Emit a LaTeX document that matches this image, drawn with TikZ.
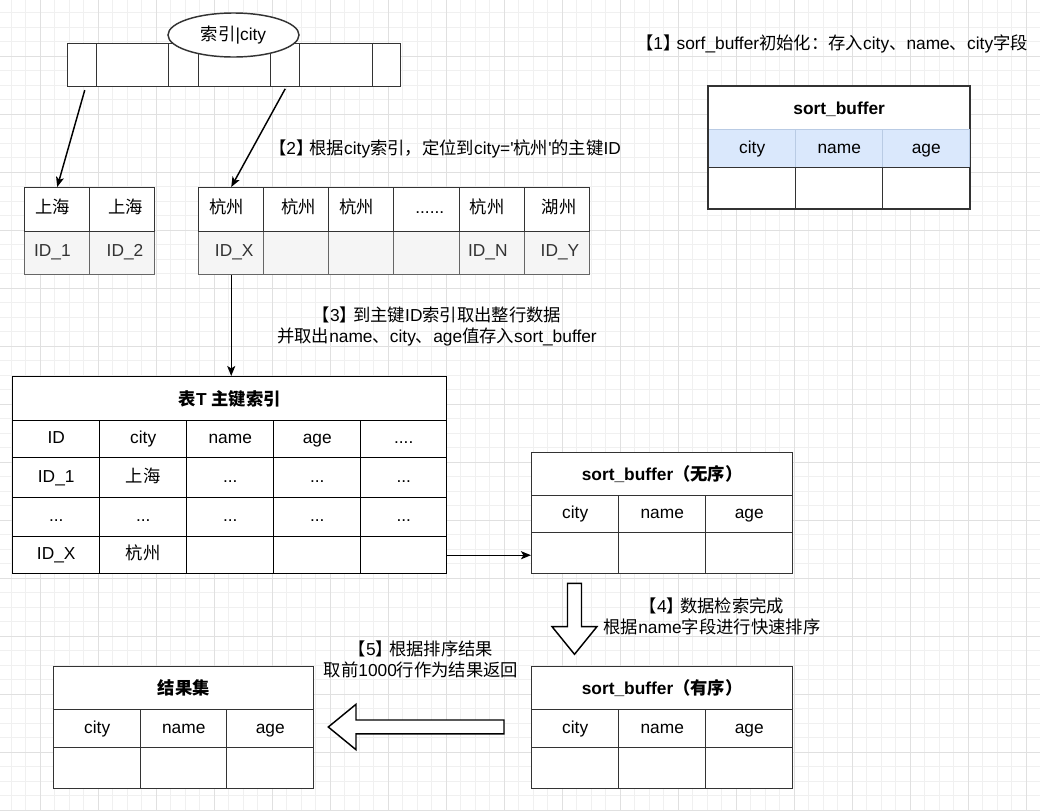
\documentclass[tikz,border=0pt]{standalone}
\usepackage{fontspec}
\setmainfont{Liberation Sans}[Ligatures=TeXOff]
\newfontfamily\zh{Noto Sans CJK SC}
\usetikzlibrary{shapes.geometric,arrows.meta}
\definecolor{gridminor}{HTML}{F0F0F0}
\definecolor{gridmajor}{HTML}{E0E0E0}
\definecolor{lightblue}{HTML}{DAE8FC}
\definecolor{blueline}{HTML}{B9CBE4}
\definecolor{cellgray}{HTML}{F5F5F5}
\definecolor{darkline}{HTML}{333333}
\definecolor{grayline}{HTML}{666666}
\definecolor{graytext}{HTML}{333333}
\newcommand\tcell[7]{\node[#1, anchor=north west, minimum width={(#5-#3)*0.75pt}, minimum height={(#6-#4)*0.75pt}] (#2) at (#3,#4) {#7};}
\newcommand\lbr{{\zh 【}}
\newcommand\rbr{{\zh 】}\kern-0.22em}
\begin{document}
\begin{tikzpicture}[x=0.75pt, y=-0.75pt,
  font=\fontsize{13}{15.75}\selectfont,
  fixtext/.style={text height=9.3pt, text depth=2.6pt},
  tabcell/.style={rectangle, draw=darkline, line width=1.09pt, fill=white, inner sep=0pt, fixtext},
  tcellk/.style={rectangle, draw=black, line width=1.09pt, fill=white, inner sep=0pt, fixtext},
  graycell/.style={rectangle, draw=grayline, line width=1.09pt, fill=cellgray, inner sep=0pt},
  bluecell/.style={rectangle, draw=blueline, line width=1.09pt, fill=lightblue, inner sep=0pt, fixtext},
  headcell/.style={tabcell, font=\fontsize{13}{15.75}\selectfont\bfseries, text height=10.8pt, text depth=1.1pt},
  headcellk/.style={tcellk, font=\fontsize{13}{15.75}\selectfont\bfseries, text height=10.8pt, text depth=1.1pt},
  txt/.style={inner sep=0pt, fixtext},
  graytxt/.style={inner sep=0pt, text=graytext, fixtext},
  note/.style={inner sep=0pt, align=center},
  arr/.style={line width=1.09pt, -{Stealth[length=7.5pt, width=6pt, inset=1.8pt]}},
  blockarr/.style={draw=black, line width=1.09pt, fill=white, line join=miter}
]
\useasboundingbox (0,0) rectangle (1040,811);
\fill[white] (0,0) rectangle (1040,811);
% grid
\foreach \i in {0,...,70} \draw[gridminor, line width=0.75pt] ({11.3+\i*14.5},0) -- ({11.3+\i*14.5},811);
\foreach \j in {0,...,55} \draw[gridminor, line width=0.75pt] (0,{12.8+\j*14.5}) -- (1040,{12.8+\j*14.5});
\foreach \i in {0,...,17} \draw[gridmajor, line width=0.75pt] ({40.3+\i*58},0) -- ({40.3+\i*58},811);
\foreach \j in {0,...,13} \draw[gridmajor, line width=0.75pt] (0,{56.3+\j*58}) -- (1040,{56.3+\j*58});

% index bar
\tcell{tabcell}{b1}{67}{43}{96}{86}{}
\tcell{tabcell}{b2}{96}{43}{168}{86}{}
\tcell{tabcell}{b3}{168}{43}{198}{86}{}
\tcell{tabcell}{b4}{198}{43}{270}{86}{}
\tcell{tabcell}{b5}{270}{43}{299}{86}{}
\tcell{tabcell}{b6}{299}{43}{372}{86}{}
\tcell{tabcell}{b7}{372}{43}{400}{86}{}
\node[ellipse, draw=darkline, line width=1.09pt, fill=white, inner sep=0pt,
  minimum width={131*0.75pt}, minimum height={44*0.75pt}] (idx) at (233.5,35) {{\zh 索引}|city};

% left small table
\tcell{graycell}{L1b}{24}{231}{89}{274}{}
\tcell{graycell}{L2b}{89}{231}{154}{274}{}
\tcell{tabcell}{L1}{24}{187}{89}{231}{}
\tcell{tabcell}{L2}{89}{187}{154}{231}{}
\node[txt] (tL1) at (53,209) {\zh 上海};
\node[txt] (tL2) at (125.5,209) {\zh 上海};
\node[graytxt] (tL1b) at (52.4,252.5) {ID\_1};
\node[graytxt] (tL2b) at (125,252.5) {ID\_2};

% right small table
\tcell{graycell}{R1b}{198}{231}{263}{274}{}
\tcell{graycell}{R2b}{263}{231}{328}{274}{}
\tcell{graycell}{R3b}{328}{231}{393}{274}{}
\tcell{graycell}{R4b}{393}{231}{458.5}{274}{}
\tcell{graycell}{R5b}{458.5}{231}{523.5}{274}{}
\tcell{graycell}{R6b}{523.5}{231}{589}{274}{}
\tcell{tabcell}{R1}{198}{187}{263}{231}{}
\tcell{tabcell}{R2}{263}{187}{328}{231}{}
\tcell{tabcell}{R3}{328}{187}{393}{231}{}
\tcell{tabcell}{R4}{393}{187}{458.5}{231}{}
\tcell{tabcell}{R5}{458.5}{187}{523.5}{231}{}
\tcell{tabcell}{R6}{523.5}{187}{589}{231}{}
\node[txt] (tR1) at (226.6,209) {\zh 杭州};
\node[txt] (tR2) at (298.7,209) {\zh 杭州};
\node[txt] (tR3) at (356.5,209) {\zh 杭州};
\node[txt] (tR4) at (429.8,209) {......};
\node[txt] (tR5) at (487.2,209) {\zh 杭州};
\node[txt] (tR6) at (559.3,209) {\zh 湖州};
\node[graytxt] (tR1b) at (234.2,252.5) {ID\_X};
\node[graytxt] (tR5b) at (487.9,252.5) {ID\_N};
\node[graytxt] (tR6b) at (560,252.5) {ID\_Y};

% sort_buffer (top right)
\tcell{headcell}{S0}{708}{86}{969}{129}{sort\_buffer}
\tcell{bluecell}{S1}{708}{129}{795}{167}{city}
\tcell{bluecell}{S2}{795}{129}{882}{167}{name}
\tcell{bluecell}{S3}{882}{129}{969}{167}{age}
\tcell{tabcell}{S1b}{708}{167}{795}{208}{}
\tcell{tabcell}{S2b}{795}{167}{882}{208}{}
\tcell{tabcell}{S3b}{882}{167}{969}{208}{}
\draw[darkline, line width=1.09pt] (S0.north west) rectangle (S3b.south east);

% table T
\tcell{headcellk}{T0}{12}{376}{446}{420}{{\zh 表}T {\zh 主键索引}}
\tcell{tcellk}{Ta1}{12}{420}{99}{457}{ID}
\tcell{tcellk}{Ta2}{99}{420}{186}{457}{city}
\tcell{tcellk}{Ta3}{186}{420}{273}{457}{name}
\tcell{tcellk}{Ta4}{273}{420}{360}{457}{age}
\tcell{tcellk}{Ta5}{360}{420}{446}{457}{....}
\tcell{tcellk}{Tb1}{12}{457}{99}{497}{ID\_1}
\tcell{tcellk}{Tb2}{99}{457}{186}{497}{\zh 上海}
\tcell{tcellk}{Tb3}{186}{457}{273}{497}{...}
\tcell{tcellk}{Tb4}{273}{457}{360}{497}{...}
\tcell{tcellk}{Tb5}{360}{457}{446}{497}{...}
\tcell{tcellk}{Tc1}{12}{497}{99}{536}{...}
\tcell{tcellk}{Tc2}{99}{497}{186}{536}{...}
\tcell{tcellk}{Tc3}{186}{497}{273}{536}{...}
\tcell{tcellk}{Tc4}{273}{497}{360}{536}{...}
\tcell{tcellk}{Tc5}{360}{497}{446}{536}{...}
\tcell{tcellk}{Td1}{12}{536}{99}{573}{ID\_X}
\tcell{tcellk}{Td2}{99}{536}{186}{573}{\zh 杭州}
\tcell{tcellk}{Td3}{186}{536}{273}{573}{}
\tcell{tcellk}{Td4}{273}{536}{360}{573}{}
\tcell{tcellk}{Td5}{360}{536}{446}{573}{}

% sort_buffer unordered
\tcell{headcell}{U0}{531}{452}{792}{495}{sort\_buffer{\zh （无序）}}
\tcell{tabcell}{U1}{531}{495}{618}{532}{city}
\tcell{tabcell}{U2}{618}{495}{705}{532}{name}
\tcell{tabcell}{U3}{705}{495}{792}{532}{age}
\tcell{tabcell}{U1b}{531}{532}{618}{573}{}
\tcell{tabcell}{U2b}{618}{532}{705}{573}{}
\tcell{tabcell}{U3b}{705}{532}{792}{573}{}

% sort_buffer ordered
\tcell{headcell}{O0}{531}{666}{792}{709}{sort\_buffer{\zh （有序）}}
\tcell{tabcell}{O1}{531}{709}{618}{747}{city}
\tcell{tabcell}{O2}{618}{709}{705}{747}{name}
\tcell{tabcell}{O3}{705}{709}{792}{747}{age}
\tcell{tabcell}{O1b}{531}{747}{618}{788}{}
\tcell{tabcell}{O2b}{618}{747}{705}{788}{}
\tcell{tabcell}{O3b}{705}{747}{792}{788}{}

% result set
\tcell{headcell}{Q0}{53}{666}{313}{709}{\zh 结果集}
\tcell{tabcell}{Q1}{53}{709}{140}{747}{city}
\tcell{tabcell}{Q2}{140}{709}{226}{747}{name}
\tcell{tabcell}{Q3}{226}{709}{313}{747}{age}
\tcell{tabcell}{Q1b}{53}{747}{140}{788}{}
\tcell{tabcell}{Q2b}{140}{747}{226}{788}{}
\tcell{tabcell}{Q3b}{226}{747}{313}{788}{}

% connectors
\draw[arr] ([xshift=1.9pt,yshift=-2pt]b1.south) -- (L1.north);
\draw[arr] ([yshift=-1pt]b5.south) -- (R1.north);
\draw[arr] (R1b.south) -- (R1b.south |- T0.north);
\draw[arr] (Td5.east) -- (Td5.east -| U1b.west);

% block arrows
\draw[blockarr] (567.5,583.3) -- (581.5,583.3) -- (581.5,626.7) -- (596.9,626.7) -- (574.5,654.3) -- (552.1,626.7) -- (567.5,626.7) -- cycle;
\draw[blockarr] (504,720) -- (504,733.8) -- (356,733.8) -- (356,749.7) -- (328.3,727) -- (356,704.3) -- (356,720) -- cycle;

% notes
\node[note] (n1) at (832,44) {\lbr 1\rbr sorf\_buffer{\zh 初始化：存入}city{\zh 、}name{\zh 、}city{\zh 字段}};
\node[note] (n2) at (445,149) {\lbr 2\rbr{\zh 根据}city{\zh 索引，定位到}city='{\zh 杭州}'{\zh 的主键}ID};
\node[note] (n3) at (437,326) {\lbr 3\rbr{\zh 到主键}ID{\zh 索引取出整行数据}\\{\zh 并取出}name{\zh 、}city{\zh 、}age{\zh 值存入}sort\_buffer};
\node[note] (n4) at (712,616) {\lbr 4\rbr{\zh 数据检索完成}\\{\zh 根据}name{\zh 字段进行快速排序}};
\node[note] (n5) at (421,659) {\lbr 5\rbr{\zh 根据排序结果}\\{\zh 取前}1000{\zh 行作为结果返回}};
\end{tikzpicture}
\end{document}
